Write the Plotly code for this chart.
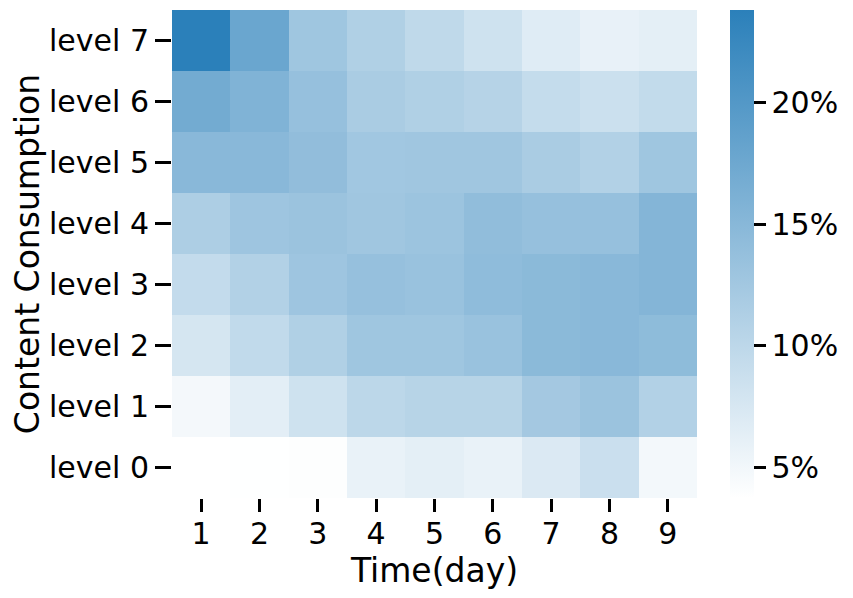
import plotly.graph_objects as go

days = ["1", "2", "3", "4", "5", "6", "7", "8", "9"]
levels = ["level 0", "level 1", "level 2", "level 3", "level 4", "level 5", "level 6", "level 7"]

# share of users (%) per consumption level, rows follow `levels`
level_0 = [3.75, 3.8, 3.9, 5.8, 6.3, 5.8, 7.2, 8.8, 4.9]
level_1 = [4.8, 6.4, 8.4, 10.1, 10.6, 10.6, 12.4, 13.2, 11.0]
level_2 = [7.7, 9.6, 11.2, 12.8, 12.8, 13.4, 14.7, 14.9, 14.4]
level_3 = [9.4, 11.0, 12.9, 13.7, 13.4, 14.3, 14.7, 14.9, 15.4]
level_4 = [11.5, 12.9, 13.2, 12.7, 13.1, 14.2, 13.7, 13.7, 15.4]
level_5 = [14.9, 14.9, 14.1, 12.6, 12.7, 12.7, 11.8, 11.0, 12.8]
level_6 = [17.0, 15.8, 13.7, 11.8, 11.2, 10.7, 9.3, 8.7, 9.5]
level_7 = [23.8, 17.8, 12.8, 11.2, 9.8, 8.4, 6.8, 5.9, 6.3]

cbar_ticks = [5, 10, 15, 20]
cbar_labels = ["5%", "10%", "15%", "20%"]

z = [level_0, level_1, level_2, level_3, level_4, level_5, level_6, level_7]

font = "DejaVu Sans"

fig = go.Figure(go.Heatmap(
    z=z, x=days, y=levels,
    colorscale=[[0, "#ffffff"], [1, "#2b80ba"]],
    colorbar=dict(
        thickness=24, len=1, lenmode="fraction", x=1.063, xanchor="left", xpad=0,
        y=0.5, yanchor="middle", ypad=0, outlinewidth=0,
        tickmode="array", tickvals=cbar_ticks, ticktext=cbar_labels,
        ticks="outside", ticklen=12, tickwidth=3, tickcolor="black",
        tickfont=dict(family=font, size=30, color="black"),
    ),
))

fig.update_xaxes(
    title=dict(text="Time(day)", font=dict(family=font, size=33, color="black"), standoff=0),
    ticks="outside", ticklen=13, tickwidth=3, tickcolor="black",
    ticklabelstandoff=-4,
    tickfont=dict(family=font, size=30, color="black"),
    showgrid=False, showline=False, zeroline=False,
)
fig.update_yaxes(
    title=dict(text="Content Consumption", font=dict(family=font, size=33, color="black"), standoff=0),
    ticks="outside", ticklen=16, tickwidth=3, tickcolor="black",
    tickfont=dict(family=font, size=30, color="black"),
    showgrid=False, showline=False, zeroline=False,
)

# page body adds an 8px offset, so the figure is 8px smaller than the window
fig.update_layout(
    width=845, height=590,
    margin=dict(l=164, r=156, t=2, b=100),
    plot_bgcolor="white", paper_bgcolor="white",
)

fig.write_html("out.html")
